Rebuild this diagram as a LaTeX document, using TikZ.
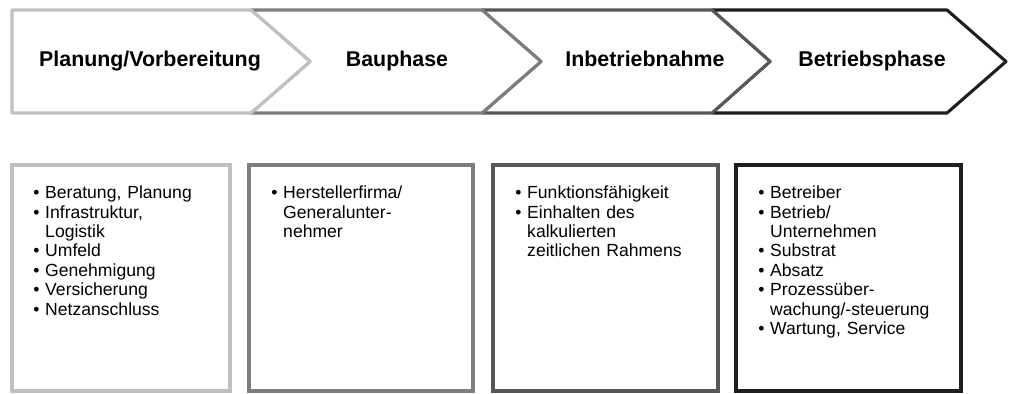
\documentclass[tikz,border=0pt]{standalone}
\usepackage{fontspec}
\setmainfont{Liberation Sans}

\definecolor{phaseA}{RGB}{192,192,192}
\definecolor{phaseB}{RGB}{125,125,125}
\definecolor{phaseC}{RGB}{88,88,88}
\definecolor{phaseD}{RGB}{30,30,30}

\tikzset{
    phase/.style={line width=2.2pt, fill=white, line join=round},
    frame/.style={line width=2.2pt},
    title/.style={anchor=base, font=\bfseries\fontsize{15.2}{17}\selectfont},
    list/.style={anchor=north west, inner sep=0pt, text width=6cm, align=left,
        font=\fontsize{12.5}{13.8}\selectfont}
}
\newcommand{\bitem}{\par\hangindent=8.5pt\hangafter=1\noindent\makebox[8.5pt][l]{\textbullet}}

\begin{document}
\begin{tikzpicture}[x=0.025cm, y=-0.025cm]
    \useasboundingbox (0,0) rectangle (1015,394);

    % Draw phase arrows, last one first
    \draw [phase, draw=phaseD] (712,10) -- (947,10) -- (1006,61.5) -- (947,113) -- (712,113) -- (770,61.5) -- cycle;
    \draw [phase, draw=phaseC] (482,10) -- (712,10) -- (770,61.5) -- (712,113) -- (482,113) -- (541,61.5) -- cycle;
    \draw [phase, draw=phaseB] (251,10) -- (482,10) -- (541,61.5) -- (482,113) -- (251,113) -- (310,61.5) -- cycle;
    \draw [phase, draw=phaseA] (12,10) -- (251,10) -- (310,61.5) -- (251,113) -- (12,113) -- cycle;

    \node [title] (planung) at (150,67) {Planung/Vorbereitung};
    \node [title] (bau) at (397,67) {Bauphase};
    \node [title] (inbetrieb) at (645,67) {Inbetriebnahme};
    \node [title] (betrieb) at (872,67) {Betriebsphase};

    % Boxes below
    \draw [frame, draw=phaseA] (12,165) rectangle (230,391);
    \draw [frame, draw=phaseB] (249,165) rectangle (473,391);
    \draw [frame, draw=phaseC] (493,165) rectangle (718,391);
    \draw [frame, draw=phaseD] (736,165) rectangle (961,391);

    \node [list] (lplanung) at (33,179) {%
        \bitem Beratung, Planung
        \bitem Infrastruktur,\newline Logistik
        \bitem Umfeld
        \bitem Genehmigung
        \bitem Versicherung
        \bitem Netzanschluss\par};
    \node [list] (lbau) at (271,179) {%
        \bitem Herstellerfirma/\newline Generalunter-\newline nehmer\par};
    \node [list] (linbetrieb) at (515,179) {%
        \bitem Funktionsfähigkeit
        \bitem Einhalten des\newline kalkulierten\newline zeitlichen Rahmens\par};
    \node [list] (lbetrieb) at (758,179) {%
        \bitem Betreiber
        \bitem Betrieb/\newline Unternehmen
        \bitem Substrat
        \bitem Absatz
        \bitem Prozessüber-\newline wachung/-steuerung
        \bitem Wartung, Service\par};

\end{tikzpicture}
\end{document}
